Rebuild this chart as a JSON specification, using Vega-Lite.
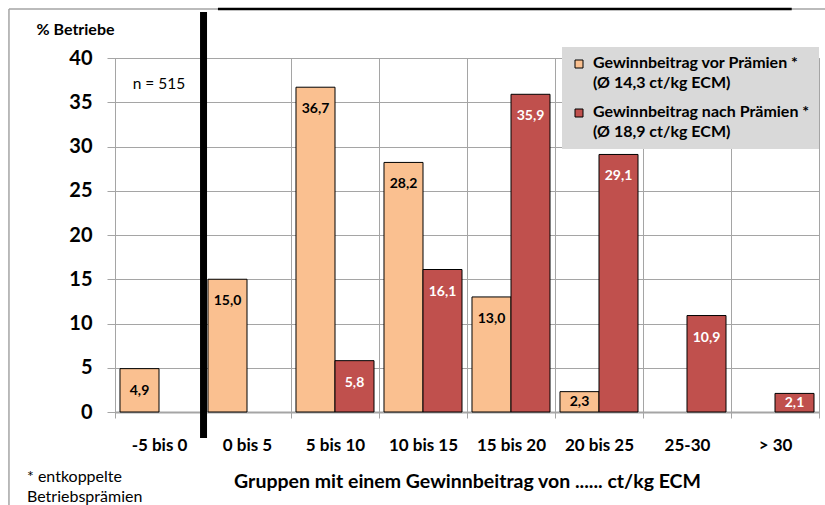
{
  "$schema": "https://vega.github.io/schema/vega-lite/v6.json",
  "width": 704,
  "height": 354,
  "autosize": {"type": "none"},
  "padding": {"left": 115, "top": 58, "right": 6, "bottom": 93},
  "background": "white",
  "config": {
    "font": "Lato",
    "view": {"stroke": "#A5A5A5", "strokeWidth": 1},
    "locale": {
      "number": {"decimal": ",", "thousands": ".", "grouping": [3], "currency": ["", " €"]}
    },
    "axisY": {
      "titleAngle": 0,
      "titleAlign": "left",
      "titleBaseline": "middle",
      "titleX": -79,
      "titleY": -29,
      "titleFont": "Lato",
      "titleFontSize": 16,
      "titleFontWeight": "bold",
      "titleColor": "black",
      "labelFont": "Lato",
      "labelFontSize": 20,
      "labelFontWeight": "bold",
      "labelColor": "black",
      "labelPadding": 15,
      "tickSize": 8,
      "tickColor": "#A5A5A5",
      "domainColor": "#A5A5A5",
      "grid": true,
      "gridColor": "#A5A5A5",
      "values": [0, 5, 10, 15, 20, 25, 30, 35, 40]
    }
  },
  "title": {
    "text": ["* entkoppelte", "Betriebsprämien"],
    "orient": "bottom",
    "anchor": "start",
    "frame": "group",
    "font": "Lato",
    "fontSize": 16,
    "fontWeight": "normal",
    "color": "black",
    "lineHeight": 20,
    "offset": 0,
    "dx": -88,
    "dy": -50
  },
  "data": {
    "values": [
      {"gruppe": "-5 bis 0", "serie": "Gewinnbeitrag vor Prämien *\n(Ø 14,3 ct/kg ECM)", "anteil": 4.9},
      {"gruppe": "0 bis 5", "serie": "Gewinnbeitrag vor Prämien *\n(Ø 14,3 ct/kg ECM)", "anteil": 15.0},
      {"gruppe": "5 bis 10", "serie": "Gewinnbeitrag vor Prämien *\n(Ø 14,3 ct/kg ECM)", "anteil": 36.7},
      {"gruppe": "5 bis 10", "serie": "Gewinnbeitrag nach Prämien *\n(Ø 18,9 ct/kg ECM)", "anteil": 5.8},
      {"gruppe": "10 bis 15", "serie": "Gewinnbeitrag vor Prämien *\n(Ø 14,3 ct/kg ECM)", "anteil": 28.2},
      {"gruppe": "10 bis 15", "serie": "Gewinnbeitrag nach Prämien *\n(Ø 18,9 ct/kg ECM)", "anteil": 16.1},
      {"gruppe": "15 bis 20", "serie": "Gewinnbeitrag vor Prämien *\n(Ø 14,3 ct/kg ECM)", "anteil": 13.0},
      {"gruppe": "15 bis 20", "serie": "Gewinnbeitrag nach Prämien *\n(Ø 18,9 ct/kg ECM)", "anteil": 35.9},
      {"gruppe": "20 bis 25", "serie": "Gewinnbeitrag vor Prämien *\n(Ø 14,3 ct/kg ECM)", "anteil": 2.3},
      {"gruppe": "20 bis 25", "serie": "Gewinnbeitrag nach Prämien *\n(Ø 18,9 ct/kg ECM)", "anteil": 29.1},
      {"gruppe": "25-30", "serie": "Gewinnbeitrag nach Prämien *\n(Ø 18,9 ct/kg ECM)", "anteil": 10.9},
      {"gruppe": "> 30", "serie": "Gewinnbeitrag nach Prämien *\n(Ø 18,9 ct/kg ECM)", "anteil": 2.1}
    ]
  },
  "layer": [
    {
      "encoding": {
        "x": {
          "field": "gruppe",
          "type": "nominal",
          "sort": null,
          "scale": {
            "domain": ["-5 bis 0", "0 bis 5", "5 bis 10", "10 bis 15", "15 bis 20", "20 bis 25", "25-30", "> 30"],
            "paddingInner": 0,
            "paddingOuter": 0
          },
          "axis": {
            "title": "Gruppen mit einem Gewinnbeitrag von ...... ct/kg ECM",
            "labelAngle": 0,
            "labelFont": "Lato",
            "labelFontSize": 17,
            "labelFontWeight": "bold",
            "labelColor": "black",
            "labelPadding": 19,
            "tickBand": "extent",
            "ticks": true,
            "tickSize": 6,
            "tickColor": "#A5A5A5",
            "domainColor": "#A5A5A5",
            "domainWidth": 2,
            "grid": true,
            "gridColor": "#A5A5A5",
            "titleFont": "Lato",
            "titleFontSize": 19.5,
            "titleFontWeight": "bold",
            "titleColor": "black",
            "titlePadding": 19
          }
        }
      },
      "layer": [
        {
          "mark": {"type": "bar", "stroke": "black", "strokeWidth": 1},
          "encoding": {
            "xOffset": {
              "field": "serie",
              "type": "nominal",
              "scale": {
                "domain": ["Gewinnbeitrag vor Prämien *\n(Ø 14,3 ct/kg ECM)", "Gewinnbeitrag nach Prämien *\n(Ø 18,9 ct/kg ECM)"],
                "paddingInner": 0,
                "paddingOuter": 0.128
              }
            },
            "y": {
              "field": "anteil",
              "type": "quantitative",
              "title": "% Betriebe",
              "scale": {"domain": [0, 40], "nice": false}
            },
            "color": {
              "field": "serie",
              "type": "nominal",
              "scale": {
                "domain": ["Gewinnbeitrag vor Prämien *\n(Ø 14,3 ct/kg ECM)", "Gewinnbeitrag nach Prämien *\n(Ø 18,9 ct/kg ECM)"],
                "range": ["#FAC090", "#C0504D"]
              },
              "legend": {
                "title": null,
                "orient": "none",
                "legendX": 447,
                "legendY": -11,
                "direction": "vertical",
                "fillColor": "#D9D9D9",
                "padding": 9,
                "symbolOffset": 0,
                "symbolType": "square",
                "symbolSize": 64,
                "symbolStrokeColor": "black",
                "symbolStrokeWidth": 1,
                "symbolOpacity": 1,
                "labelFont": "Lato",
                "labelFontSize": 16,
                "labelFontWeight": "bold",
                "labelColor": "black",
                "labelBaseline": "top",
                "labelOffset": 6,
                "labelLimit": 0,
                "labelExpr": "split(datum.label, '\\n')",
                "rowPadding": 13,
                "encode": {
                  "labels": {"update": {"dy": {"value": -9}, "lineHeight": {"value": 20}}}
                }
              }
            }
          }
        },
        {
          "transform": [{"filter": "datum.anteil >= 4"}],
          "mark": {"type": "text", "baseline": "middle", "dy": 22, "fontSize": 14, "fontWeight": "bold", "font": "Lato"},
          "encoding": {
            "xOffset": {
              "field": "serie",
              "type": "nominal",
              "scale": {
                "domain": ["Gewinnbeitrag vor Prämien *\n(Ø 14,3 ct/kg ECM)", "Gewinnbeitrag nach Prämien *\n(Ø 18,9 ct/kg ECM)"],
                "paddingInner": 0,
                "paddingOuter": 0.128
              }
            },
            "y": {"field": "anteil", "type": "quantitative", "title": "% Betriebe", "scale": {"domain": [0, 40], "nice": false}},
            "text": {"field": "anteil", "type": "quantitative", "format": ".1f"},
            "fill": {"condition": {"test": "indexof(datum.serie, ' nach ') >= 0", "value": "white"}, "value": "black"}
          }
        },
        {
          "transform": [{"filter": "datum.anteil < 4"}],
          "mark": {"type": "text", "baseline": "middle", "dy": 10, "fontSize": 14, "fontWeight": "bold", "font": "Lato"},
          "encoding": {
            "xOffset": {
              "field": "serie",
              "type": "nominal",
              "scale": {
                "domain": ["Gewinnbeitrag vor Prämien *\n(Ø 14,3 ct/kg ECM)", "Gewinnbeitrag nach Prämien *\n(Ø 18,9 ct/kg ECM)"],
                "paddingInner": 0,
                "paddingOuter": 0.128
              }
            },
            "y": {"field": "anteil", "type": "quantitative", "title": "% Betriebe", "scale": {"domain": [0, 40], "nice": false}},
            "text": {"field": "anteil", "type": "quantitative", "format": ".1f"},
            "fill": {"condition": {"test": "indexof(datum.serie, ' nach ') >= 0", "value": "white"}, "value": "black"}
          }
        },
        {
          "data": {"values": [{"hinweis": "n = 515"}]},
          "mark": {"type": "text", "fontSize": 15.5, "fontWeight": "normal", "font": "Lato", "color": "black", "baseline": "middle"},
          "encoding": {
            "x": {"datum": "-5 bis 0", "type": "nominal"},
            "y": {"datum": 37.1, "type": "quantitative", "title": "% Betriebe", "scale": {"domain": [0, 40], "nice": false}},
            "text": {"field": "hinweis", "type": "nominal"}
          }
        }
      ]
    },
    {
      "data": {"values": [{"rahmen": 1}]},
      "layer": [
        {
          "mark": {"type": "rule", "color": "#A5A5A5", "strokeWidth": 1.5},
          "encoding": {
            "x": {"datum": -1.205, "type": "quantitative", "scale": {"domain": [0, 8], "nice": false, "zero": false}, "axis": null},
            "x2": {"datum": 8.3},
            "y": {"datum": 45.54, "type": "quantitative", "title": "% Betriebe", "scale": {"domain": [0, 40], "nice": false}}
          }
        },
        {
          "mark": {"type": "rule", "color": "#A5A5A5", "strokeWidth": 1.5},
          "encoding": {
            "x": {"datum": -1.205, "type": "quantitative", "scale": {"domain": [0, 8], "nice": false, "zero": false}, "axis": null},
            "y": {"datum": 45.54, "type": "quantitative", "title": "% Betriebe", "scale": {"domain": [0, 40], "nice": false}},
            "y2": {"datum": -12}
          }
        },
        {
          "mark": {"type": "rule", "color": "black", "strokeWidth": 2.5},
          "encoding": {
            "x": {"datum": 1.17, "type": "quantitative", "scale": {"domain": [0, 8], "nice": false, "zero": false}, "axis": null},
            "x2": {"datum": 7.69},
            "y": {"datum": 45.54, "type": "quantitative", "title": "% Betriebe", "scale": {"domain": [0, 40], "nice": false}}
          }
        },
        {
          "mark": {"type": "rule", "color": "black", "strokeWidth": 7},
          "encoding": {
            "x": {"datum": 1.006, "type": "quantitative", "scale": {"domain": [0, 8], "nice": false, "zero": false}, "axis": null},
            "y": {"datum": 45.2, "type": "quantitative", "title": "% Betriebe", "scale": {"domain": [0, 40], "nice": false}},
            "y2": {"datum": -2.95}
          }
        }
      ]
    }
  ],
  "resolve": {"scale": {"x": "independent"}}
}
